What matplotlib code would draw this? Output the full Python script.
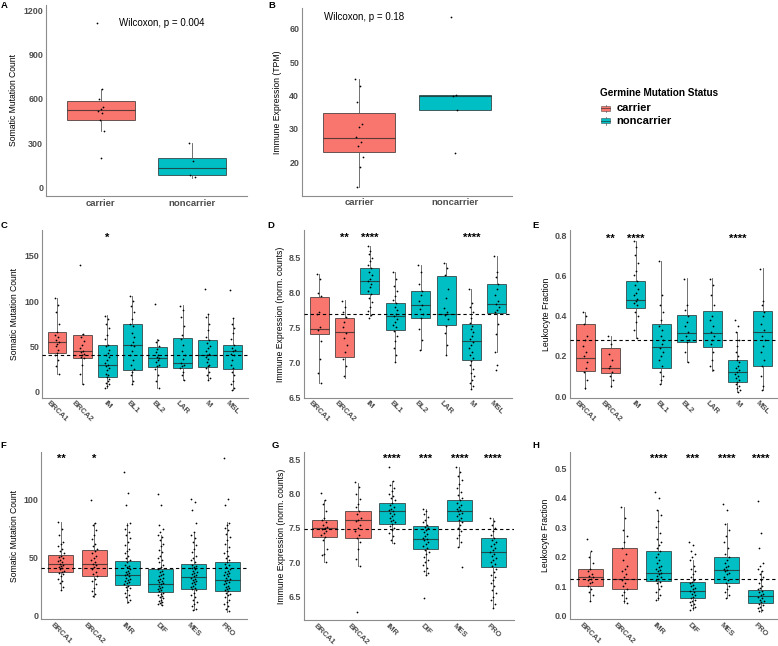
import numpy as np
import matplotlib.pyplot as plt

plt.rcParams['font.family'] = ['Liberation Sans', 'DejaVu Sans']
plt.rcParams['font.weight'] = 'bold'

W, H = 778, 646
RED = '#F8766D'
TEAL = '#00BFC4'

# ---- panel A / B : carrier vs noncarrier ----
status = ['carrier', 'noncarrier']
a_lo, a_q1, a_med, a_q3, a_hi = [386, 64], [458, 86], [526, 131], [588, 199], [665, 300]
a_pts = [[1110, 665, 600, 545, 530, 520, 505, 460, 386, 200],
         [300, 180, 85, 70]]
b_lo, b_q1, b_med, b_q3, b_hi = [12.4, 35.6], [23.0, 35.6], [27.2, 40.0], [34.6, 40.2], [45.1, 40.2]
b_pts = [[45.1, 43, 38, 31.5, 30.5, 27.5, 26, 24.8, 21.5, 18.5, 12.4],
         [63.5, 40.2, 40, 35.6, 22.8]]

# ---- panels C / D / E : TNBC subtypes ----
subtypes = ['BRCA1', 'BRCA2', 'IM', 'BL1', 'BL2', 'LAR', 'M', 'MSL']
c_lo = [20, 8, 3.7, 8, 3.7, 12.9, 12.9, 1.8]
c_q1 = [43, 36.8, 16.5, 24.3, 27.6, 26.5, 27.6, 25]
c_med = [54.4, 44.9, 30, 51.5, 36.8, 32, 40.4, 44.9]
c_q3 = [66, 62.5, 51.5, 74.3, 49, 59.6, 57, 51.5]
c_hi = [103.7, 64, 84.6, 105, 57.7, 95.6, 86, 81.6]
c_pts = [[103, 96, 88, 75, 66, 62, 60, 57, 55, 53, 50, 46, 43, 40, 35, 28, 20],
         [140, 64, 60, 56, 52, 48, 45, 44, 42, 40, 38, 37, 30, 20, 8],
         [84, 80, 75, 70, 62, 58, 52, 50, 46, 43, 40, 38, 35, 32, 30, 28, 26, 24, 20, 18, 16, 14, 12, 10, 8, 6, 4],
         [105, 100, 95, 88, 80, 75, 72, 65, 60, 55, 52, 50, 45, 40, 35, 30, 25, 22, 18, 12, 8],
         [97, 57, 55, 50, 47, 44, 40, 38, 37, 35, 33, 30, 28, 25, 18, 12, 4],
         [95, 90, 82, 72, 62, 58, 52, 45, 40, 36, 32, 30, 28, 26, 22, 18, 13],
         [113, 86, 82, 75, 68, 60, 57, 54, 50, 48, 45, 42, 40, 38, 36, 33, 30, 28, 26, 22, 18, 15, 13],
         [112, 81, 75, 70, 65, 58, 52, 48, 46, 45, 42, 40, 35, 30, 26, 22, 18, 12, 8, 4, 2]]
c_ref = 40.5
c_sig = {'IM': '*'}
c_sig_y = 173.5

d_lo = [6.70, 6.78, 7.67, 7.0, 7.17, 7.1, 6.62, 7.14]
d_q1 = [7.40, 7.08, 7.98, 7.47, 7.64, 7.54, 7.03, 7.71]
d_med = [7.48, 7.44, 8.16, 7.67, 7.82, 7.70, 7.31, 7.84]
d_q3 = [7.94, 7.63, 8.36, 7.85, 8.03, 8.24, 7.55, 8.12]
d_hi = [8.27, 7.89, 8.67, 8.3, 8.4, 8.42, 8.05, 8.52]
d_pts = [[8.27, 8.2, 8.0, 7.95, 7.72, 7.69, 7.5, 7.46, 7.3, 7.05, 6.85, 6.7],
         [7.88, 7.8, 7.72, 7.65, 7.58, 7.5, 7.42, 7.35, 7.25, 7.15, 7.05, 6.95, 6.8],
         [8.67, 8.6, 8.55, 8.5, 8.45, 8.4, 8.36, 8.3, 8.25, 8.2, 8.16, 8.12, 8.08, 8.03, 7.98, 7.92, 7.86, 7.8, 7.74, 7.68, 7.64],
         [8.3, 8.2, 8.1, 8.02, 7.95, 7.9, 7.85, 7.8, 7.75, 7.7, 7.66, 7.62, 7.58, 7.54, 7.5, 7.45, 7.38, 7.3, 7.2, 7.1, 7.0],
         [8.4, 8.3, 8.12, 8.03, 7.96, 7.88, 7.82, 7.76, 7.7, 7.64, 7.48, 7.32, 7.17],
         [8.42, 8.36, 8.26, 8.05, 7.92, 7.78, 7.72, 7.68, 7.62, 7.52, 7.42, 7.25, 7.1],
         [8.05, 7.85, 7.8, 7.72, 7.64, 7.56, 7.52, 7.48, 7.43, 7.38, 7.33, 7.29, 7.25, 7.2, 7.15, 7.1, 7.06, 7.02,
          6.96, 6.9, 6.85, 6.8, 6.75, 6.7, 6.66, 6.62],
         [8.52, 8.3, 8.22, 8.12, 8.05, 7.96, 7.88, 7.84, 7.8, 7.75, 7.72, 7.55, 7.4, 7.14, 6.96, 6.89]]
d_ref = 7.69
d_sig = {'BRCA2': '**', 'IM': '****', 'M': '****'}
d_sig_y = 8.83

e_lo = [0.033, 0.047, 0.29, 0.062, 0.167, 0.125, 0.02, 0.03]
e_q1 = [0.125, 0.113, 0.44, 0.142, 0.267, 0.245, 0.07, 0.15]
e_med = [0.19, 0.142, 0.475, 0.245, 0.313, 0.312, 0.122, 0.32]
e_q3 = [0.358, 0.237, 0.573, 0.358, 0.405, 0.425, 0.18, 0.425]
e_hi = [0.42, 0.30, 0.77, 0.67, 0.587, 0.587, 0.317, 0.637]
e_pts = [[0.42, 0.4, 0.36, 0.3, 0.28, 0.25, 0.22, 0.2, 0.17, 0.14, 0.12, 0.08, 0.04],
         [0.3, 0.26, 0.21, 0.18, 0.15, 0.14, 0.12, 0.1, 0.08, 0.05],
         [0.77, 0.74, 0.7, 0.66, 0.62, 0.6, 0.57, 0.55, 0.53, 0.51, 0.5, 0.48, 0.47, 0.46, 0.45, 0.42, 0.4, 0.37, 0.33, 0.29],
         [0.67, 0.5, 0.45, 0.42, 0.38, 0.35, 0.33, 0.3, 0.28, 0.26, 0.24, 0.22, 0.2, 0.18, 0.15, 0.12, 0.1, 0.08, 0.06],
         [0.58, 0.45, 0.43, 0.4, 0.37, 0.35, 0.32, 0.3, 0.28, 0.27, 0.22, 0.17],
         [0.58, 0.55, 0.5, 0.45, 0.4, 0.38, 0.35, 0.32, 0.3, 0.28, 0.26, 0.22, 0.18, 0.15, 0.13],
         [0.38, 0.35, 0.32, 0.28, 0.25, 0.22, 0.2, 0.18, 0.17, 0.15, 0.14, 0.13, 0.12, 0.11, 0.1, 0.09, 0.08, 0.07,
          0.06, 0.05, 0.04, 0.03, 0.02],
         [0.63, 0.47, 0.45, 0.42, 0.4, 0.36, 0.33, 0.3, 0.28, 0.25, 0.22, 0.18, 0.15, 0.1, 0.05, 0.03]]
e_ref = 0.278
e_sig = {'BRCA2': '**', 'IM': '****', 'M': '****'}
e_sig_y = 0.80

# ---- panels F / G / H : HGSOC subtypes ----
ov_types = ['BRCA1', 'BRCA2', 'IMR', 'DIF', 'MES', 'PRO']
f_lo = [22, 16.4, 11.2, 9.2, 4.9, 3.5]
f_q1 = [38, 34.6, 26.5, 20.2, 22.8, 21.6]
f_med = [44.4, 44.7, 35.1, 27.4, 33.1, 30.8]
f_q3 = [52.4, 56.8, 47.5, 40, 44.4, 46.1]
f_hi = [81, 80.4, 79.8, 69.7, 71.7, 81]
f_pts = [[81, 75, 70, 64, 62, 60, 58, 56, 54, 52, 51, 50, 48, 47, 46, 45, 44, 43, 42, 41, 40, 39, 38, 37, 36, 34,
          32, 30, 28, 25, 22],
         [100, 80, 78, 74, 70, 66, 62, 60, 58, 56, 54, 52, 50, 48, 46, 45, 44, 42, 40, 38, 36, 34, 32, 30, 27, 24,
          21, 19, 17],
         [124, 106, 96, 80, 78, 75, 72, 70, 67, 64, 61, 58, 56, 54, 52, 50, 48, 46, 44, 43, 42, 40, 39, 38, 37, 36,
          35, 34, 33, 32, 31, 30, 29, 28, 27, 26, 25, 24, 22, 20, 18, 16, 14, 12],
         [105, 96, 78, 75, 72, 70, 68, 65, 62, 60, 57, 55, 52, 50, 48, 46, 44, 42, 40, 39, 38, 36, 35, 34, 33, 32,
          31, 30, 29, 28, 27, 26, 25, 24, 23, 22, 21, 20, 19, 18, 17, 16, 15, 14, 13, 12, 11, 10, 9],
         [101, 98, 91, 80, 72, 70, 67, 64, 61, 58, 55, 52, 50, 48, 46, 44, 43, 42, 41, 40, 39, 38, 37, 36, 35, 34,
          33, 32, 31, 30, 29, 28, 27, 26, 25, 24, 23, 22, 20, 18, 16, 14, 12, 10, 8, 6, 5],
         [136, 101, 96, 80, 78, 76, 74, 71, 68, 65, 62, 59, 56, 54, 52, 50, 48, 46, 45, 44, 42, 40, 39, 38, 37, 36,
          35, 34, 33, 32, 31, 30, 29, 28, 27, 26, 25, 24, 23, 22, 21, 20, 19, 18, 16, 14, 12, 10, 8, 6, 4]]
f_ref = 41
f_sig = {'BRCA1': '**', 'BRCA2': '*'}
f_sig_y = 138.3

g_lo = [7.0, 6.95, 7.28, 6.82, 7.22, 6.33]
g_q1 = [7.37, 7.35, 7.56, 7.19, 7.6, 6.93]
g_med = [7.5, 7.62, 7.74, 7.34, 7.74, 7.15]
g_q3 = [7.61, 7.74, 7.86, 7.53, 7.9, 7.35]
g_hi = [7.9, 8.16, 8.19, 7.78, 8.39, 7.65]
g_pts = [[8.01, 7.9, 7.85, 7.75, 7.65, 7.61, 7.58, 7.55, 7.52, 7.5, 7.48, 7.45, 7.42, 7.4, 7.37, 7.33, 7.2, 7.12,
          7.1, 7.0],
         [8.17, 8.1, 8.0, 7.92, 7.85, 7.8, 7.74, 7.7, 7.65, 7.62, 7.6, 7.55, 7.5, 7.45, 7.4, 7.35, 7.3, 7.2, 7.05,
          6.95, 6.27],
         [8.39, 8.19, 8.12, 8.08, 8.04, 8.0, 7.96, 7.93, 7.9, 7.87, 7.84, 7.81, 7.78, 7.76, 7.74, 7.72, 7.7, 7.68,
          7.65, 7.62, 7.6, 7.58, 7.56, 7.53, 7.5, 7.47, 7.43, 7.38, 7.33, 7.28],
         [7.78, 7.74, 7.7, 7.66, 7.62, 7.58, 7.55, 7.52, 7.5, 7.47, 7.44, 7.41, 7.38, 7.36, 7.34, 7.32, 7.3, 7.27,
          7.24, 7.21, 7.18, 7.15, 7.12, 7.08, 7.04, 7.0, 6.96, 6.92, 6.88, 6.84, 6.82, 6.48],
         [8.39, 8.32, 8.26, 8.2, 8.14, 8.08, 8.03, 7.98, 7.94, 7.9, 7.87, 7.84, 7.81, 7.78, 7.76, 7.74, 7.72, 7.7,
          7.67, 7.64, 7.61, 7.58, 7.54, 7.5, 7.45, 7.4, 7.35, 7.3, 7.22, 6.93],
         [7.65, 7.6, 7.55, 7.5, 7.45, 7.4, 7.36, 7.33, 7.3, 7.27, 7.24, 7.21, 7.18, 7.15, 7.12, 7.09, 7.06, 7.03,
          7.0, 6.97, 6.94, 6.9, 6.86, 6.82, 6.78, 6.74, 6.7, 6.65, 6.6, 6.55, 6.5, 6.45, 6.4, 6.33]]
g_ref = 7.485
g_sig = {'IMR': '****', 'DIF': '***', 'MES': '****', 'PRO': '****'}
g_sig_y = 8.55

h_lo = [0.051, 0.044, 0.055, 0.019, 0.059, 0.014]
h_q1 = [0.10, 0.089, 0.117, 0.061, 0.11, 0.044]
h_med = [0.132, 0.124, 0.146, 0.084, 0.155, 0.068]
h_q3 = [0.16, 0.228, 0.22, 0.114, 0.199, 0.087]
h_hi = [0.217, 0.37, 0.358, 0.189, 0.313, 0.15]
h_pts = [[0.26, 0.22, 0.2, 0.18, 0.16, 0.15, 0.14, 0.135, 0.13, 0.125, 0.12, 0.115, 0.11, 0.1, 0.09, 0.08, 0.07, 0.05],
         [0.37, 0.33, 0.29, 0.27, 0.25, 0.23, 0.21, 0.19, 0.17, 0.16, 0.15, 0.14, 0.13, 0.12, 0.11, 0.1, 0.09, 0.08,
          0.07, 0.06, 0.05, 0.044],
         [0.42, 0.4, 0.36, 0.34, 0.32, 0.3, 0.28, 0.26, 0.25, 0.24, 0.23, 0.22, 0.21, 0.2, 0.19, 0.18, 0.17, 0.165,
          0.16, 0.155, 0.15, 0.145, 0.14, 0.135, 0.13, 0.125, 0.12, 0.115, 0.11, 0.1, 0.09, 0.08, 0.07, 0.06, 0.055],
         [0.25, 0.24, 0.22, 0.21, 0.2, 0.189, 0.17, 0.16, 0.15, 0.14, 0.13, 0.12, 0.115, 0.11, 0.105, 0.1, 0.095,
          0.09, 0.085, 0.08, 0.075, 0.07, 0.065, 0.06, 0.055, 0.05, 0.045, 0.04, 0.035, 0.03, 0.025, 0.02],
         [0.38, 0.36, 0.31, 0.29, 0.27, 0.25, 0.23, 0.21, 0.2, 0.19, 0.18, 0.17, 0.165, 0.16, 0.155, 0.15, 0.145,
          0.14, 0.13, 0.12, 0.11, 0.1, 0.09, 0.08, 0.07, 0.06],
         [0.39, 0.28, 0.23, 0.18, 0.17, 0.16, 0.15, 0.14, 0.13, 0.12, 0.11, 0.1, 0.095, 0.09, 0.085, 0.08, 0.075,
          0.07, 0.065, 0.06, 0.055, 0.05, 0.045, 0.04, 0.035, 0.03, 0.025, 0.02, 0.015]]
h_ref = 0.123
h_sig = {'IMR': '****', 'DIF': '***', 'MES': '****', 'PRO': '****'}
h_sig_y = 0.542


fig = plt.figure(figsize=(W / 100, H / 100), dpi=100)


def px_axes(l, t, r, b):
    # place an axes by its pixel box (left, top, right, bottom)
    ax = fig.add_axes([l / W, 1 - b / H, (r - l) / W, (b - t) / H])
    ax.spines['top'].set_visible(False)
    ax.spines['right'].set_visible(False)
    for s in ['left', 'bottom']:
        ax.spines[s].set_color('#8c8c8c')
        ax.spines[s].set_linewidth(0.8)
    ax.tick_params(length=0, pad=2, labelsize=6.4, labelcolor='#4d4d4d')
    return ax


def boxes(ax, groups, lo, q1, med, q3, hi, pts, jw):
    pos = np.arange(1, len(groups) + 1)
    stats = [dict(whislo=lo[i], q1=q1[i], med=med[i], q3=q3[i], whishi=hi[i], fliers=[])
             for i in range(len(groups))]
    bp = ax.bxp(stats, positions=pos, widths=0.75, patch_artist=True, showfliers=False,
                showcaps=False, manage_ticks=False,
                boxprops=dict(edgecolor=(0.15, 0.15, 0.15, 0.7), linewidth=0.7),
                medianprops=dict(color=(0.15, 0.15, 0.15, 0.75), linewidth=0.8),
                whiskerprops=dict(color='#5a5a5a', linewidth=0.6))
    for box, g in zip(bp['boxes'], groups):
        box.set_facecolor(RED if g in ('carrier', 'BRCA1', 'BRCA2') else TEAL)
    for p, vals in zip(pos, pts):
        k = np.arange(len(vals))
        off = ((k * 0.618034) % 1 - 0.5) * jw
        ax.scatter(p + off, vals, s=1.6, color='black', linewidths=0, zorder=4)
    ax.set_xlim(0.4, len(groups) + 0.6)
    ax.set_xticks(pos)
    return pos


def ylab(ax, text, center_px, left_px, width_px):
    ax.set_ylabel(text, fontsize=6.2, color='black', va='center')
    ax.yaxis.set_label_coords((center_px - left_px) / width_px, 0.5)


def sub_panel(box_px, groups, lo, q1, med, q3, hi, pts, ref, sig, sig_y, ylim, yticks, fmt, title, title_x):
    l, t, r, b = box_px
    ax = px_axes(l, t, r, b)
    pos = boxes(ax, groups, lo, q1, med, q3, hi, pts, 0.18)
    ax.axhline(ref, color='black', lw=0.8, dashes=(3, 2.5), zorder=5)
    ax.set_ylim(*ylim)
    ax.set_yticks(yticks)
    ax.set_yticklabels([fmt.format(v) for v in yticks])
    ax.set_xticklabels(groups, rotation=-45, ha='center', va='top', fontsize=5.6)
    ax.tick_params(axis='x', pad=1.5)
    ylab(ax, title, title_x, l, r - l)
    for g, s in sig.items():
        i = groups.index(g)
        ax.annotate(s, (pos[i], sig_y), xytext=(0, -4.6), textcoords='offset points',
                    ha='center', va='baseline', fontsize=8)
    return ax


# panel A
axA = px_axes(46, 5, 247, 196)
boxes(axA, status, a_lo, a_q1, a_med, a_q3, a_hi, a_pts, 0.08)
axA.set_ylim(-56, 1234)
axA.set_yticks([0, 300, 600, 900, 1200])
axA.set_xticklabels(status, fontsize=6.8)
ylab(axA, 'Somatic Mutation Count', 14, 46, 201)
axA.text(1.2, 1110, 'Wilcoxon, p = 0.004', fontsize=7, fontweight='normal', va='center', ha='left')

# panel B
axB = px_axes(302, 8, 512, 195.7)
boxes(axB, status, b_lo, b_q1, b_med, b_q3, b_hi, b_pts, 0.08)
axB.set_ylim(9.9, 66.3)
axB.set_yticks([20, 30, 40, 50, 60])
axB.set_xticklabels(status, fontsize=6.8)
ylab(axB, 'Immune Expression (TPM)', 278, 302, 210)
axB.text(0.63, 63.5, 'Wilcoxon, p = 0.18', fontsize=7, fontweight='normal', va='center', ha='left')

sub_panel((42, 230, 247.8, 397.7), subtypes, c_lo, c_q1, c_med, c_q3, c_hi, c_pts, c_ref, c_sig, c_sig_y,
          (-6.6, 178.3), [0, 50, 100, 150], '{:g}', 'Somatic Mutation Count', 14)
sub_panel((304, 230, 512, 397.7), subtypes, d_lo, d_q1, d_med, d_q3, d_hi, d_pts, d_ref, d_sig, d_sig_y,
          (6.49, 8.9), [6.5, 7.0, 7.5, 8.0, 8.5], '{:.1f}', 'Immune Expression (norm. counts)', 280.7)
sub_panel((570, 230, 778, 397.7), subtypes, e_lo, e_q1, e_med, e_q3, e_hi, e_pts, e_ref, e_sig, e_sig_y,
          (-0.008, 0.825), [0.0, 0.2, 0.4, 0.6, 0.8], '{:.1f}', 'Leukocyte Fraction', 546.7)
sub_panel((41, 451.7, 247, 619.3), ov_types, f_lo, f_q1, f_med, f_q3, f_hi, f_pts, f_ref, f_sig, f_sig_y,
          (-3.1, 141.7), [0, 50, 100], '{:g}', 'Somatic Mutation Count', 14.5)
sub_panel((304, 451.7, 513.5, 620), ov_types, g_lo, g_q1, g_med, g_q3, g_hi, g_pts, g_ref, g_sig, g_sig_y,
          (6.16, 8.61), [6.5, 7.0, 7.5, 8.0, 8.5], '{:.1f}', 'Immune Expression (norm. counts)', 281.7)
sub_panel((570, 451.7, 781, 619.3), ov_types, h_lo, h_q1, h_med, h_q3, h_hi, h_pts, h_ref, h_sig, h_sig_y,
          (-0.012, 0.556), [0.0, 0.1, 0.2, 0.3, 0.4, 0.5], '{:.1f}', 'Leukocyte Fraction', 545)

# overlay in pixel coordinates for panel letters and the legend
ov = fig.add_axes([0, 0, 1, 1], zorder=10)
ov.set_xlim(0, W)
ov.set_ylim(H, 0)
ov.axis('off')
ov.patch.set_alpha(0)

letters = {'A': (0.5, 5), 'B': (268, 5), 'C': (1, 225), 'D': (267, 225), 'E': (532, 225),
           'F': (0.5, 446), 'G': (272, 445), 'H': (532, 445)}
for k, (x, y) in letters.items():
    ov.text(x, y, k, fontsize=6.8, fontweight='bold', ha='left', va='center')

ov.text(600.5, 93.3, 'Germine Mutation Status', fontsize=7.2, ha='left', va='center')
for lab, col, y in [('carrier', RED, 108.3), ('noncarrier', TEAL, 120.7)]:
    ov.add_patch(plt.Rectangle((601.5, y - 2.6), 9, 5.2, facecolor=col,
                               edgecolor=(0.15, 0.15, 0.15, 0.6), lw=0.5))
    ov.plot([601.5, 610.5], [y, y], color=(0.15, 0.15, 0.15, 0.7), lw=0.6)
    ov.plot([606, 606], [y - 3.8, y - 2.6], color='#5a5a5a', lw=0.5)
    ov.plot([606, 606], [y + 2.6, y + 3.8], color='#5a5a5a', lw=0.5)
    ov.text(616.5, y, lab, fontsize=8, ha='left', va='center')

fig.savefig('out.png', dpi=100)
